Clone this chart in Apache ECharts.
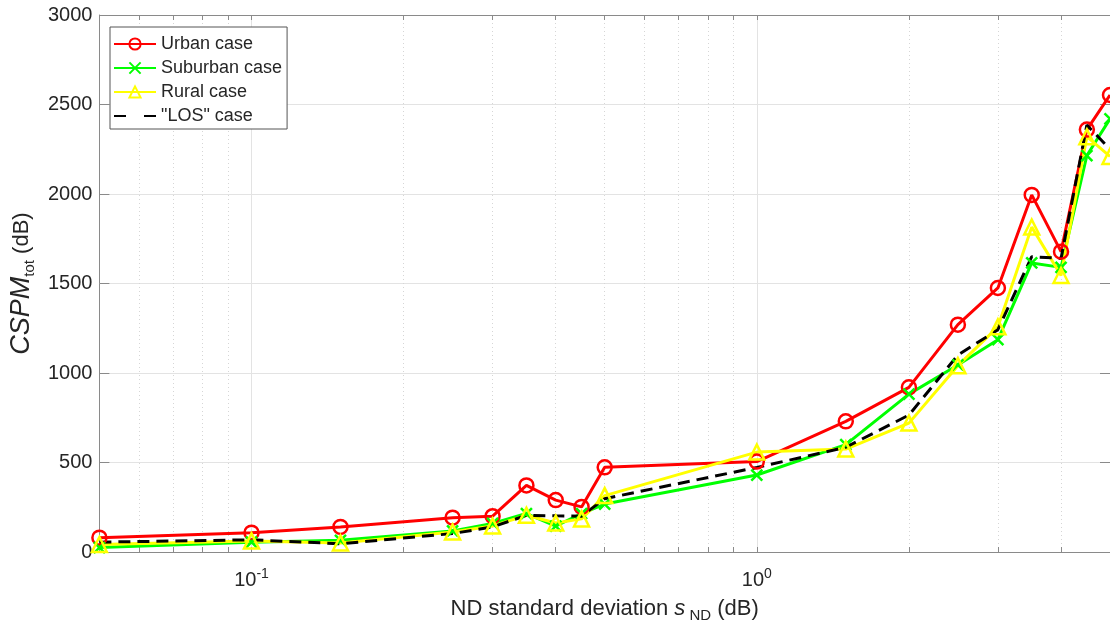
<!DOCTYPE html>
<html>
<head>
<meta charset="utf-8">
<script src="https://cdn.jsdelivr.net/npm/echarts@6/dist/echarts.min.js"></script>
<style>
  html, body { margin: 0; padding: 0; background: #fff; }
  #chart { width: 1110px; height: 628px; }
</style>
</head>
<body>
<div id="chart"></div>
<script>
// ND standard deviation (dB), log x axis
var sigma = [0.05, 0.1, 0.15, 0.25, 0.3, 0.35, 0.4, 0.45, 0.5, 1, 1.5, 2, 2.5, 3, 3.5, 4, 4.5, 5]
var urban = [80, 108, 140, 192, 200, 372, 290, 252, 473, 505, 730, 920, 1270, 1475, 1995, 1678, 2360, 2553]
var suburban = [25, 55, 65, 118, 160, 215, 145, 215, 268, 430, 600, 882, 1045, 1186, 1615, 1590, 2215, 2420]
var rural = [42, 62, 50, 112, 145, 205, 162, 185, 315, 558, 575, 720, 1041, 1258, 1815, 1545, 2320, 2210]
var los = [55, 68, 46, 103, 140, 205, 202, 200, 298, 472, 585, 765, 1100, 1242, 1650, 1640, 2385, 2250]

var xMajorTicks = [0.1, 1]
var xMinorTicks = [0.06, 0.07, 0.08, 0.09, 0.2, 0.3, 0.4, 0.5, 0.6, 0.7, 0.8, 0.9, 2, 3, 4]
var seriesNames = ['Urban case', 'Suburban case', 'Rural case', '"LOS" case']

var font = 'Liberation Sans, Arial, Helvetica, sans-serif'
var textColor = '#262626'
var axisColor = '#8a8a8a'

function pairs(ys) {
  return sigma.map(function (x, i) { return [x, ys[i]] })
}

// 10^n tick labels
function powLabel(v) {
  var e = Math.round(Math.log10(v))
  return '{b|10}{e|' + e + '}'
}

function logAxis(pos, ticks, opts) {
  return Object.assign({
    type: 'log',
    logBase: 10,
    min: 0.05,
    max: 5,
    position: pos,
    axisLine: { show: true, lineStyle: { color: axisColor, width: 1 } },
    axisTick: { show: true, inside: true, length: 5, customValues: ticks, lineStyle: { color: axisColor } },
    axisLabel: { show: false },
    splitLine: { show: false },
    minorTick: { show: false }
  }, opts || {})
}

var chart = echarts.init(document.getElementById('chart'))

chart.setOption({
  animation: false,
  backgroundColor: '#fff',
  textStyle: { fontFamily: font },
  grid: { left: 97, right: 0, top: 15, bottom: 76 },
  legend: {
    orient: 'vertical',
    left: 110,
    top: 27,
    padding: [8, 5, 4, 3],
    itemGap: 6,
    itemWidth: 42,
    itemHeight: 14,
    backgroundColor: '#fff',
    borderColor: '#555',
    borderWidth: 1,
    textStyle: { fontSize: 18, color: textColor, fontFamily: font },
    data: [
      seriesNames[0],
      seriesNames[1],
      seriesNames[2],
      { name: seriesNames[3], lineStyle: { type: [12, 18] } }
    ]
  },
  xAxis: [
    logAxis('bottom', xMajorTicks, {
      name: 'ND standard deviation {i|s}{sub| ND} (dB)',
      nameLocation: 'middle',
      nameGap: 42,
      nameTextStyle: {
        fontSize: 22, color: textColor, fontFamily: font,
        rich: {
          i: { fontSize: 22, fontStyle: 'italic', color: textColor, fontFamily: font },
          sub: { fontSize: 15, color: textColor, fontFamily: font, padding: [14, 0, 0, 0] }
        }
      },
      axisLabel: {
        show: true,
        customValues: xMajorTicks,
        margin: 15,
        formatter: powLabel,
        rich: {
          b: { fontSize: 20, color: textColor, fontFamily: font },
          e: { fontSize: 14, color: textColor, fontFamily: font, padding: [0, 0, 12, 0] }
        }
      },
      splitLine: { show: true, lineStyle: { color: '#e3e3e3', width: 1 } }
    }),
    logAxis('bottom', xMinorTicks, {
      splitLine: { show: true, lineStyle: { color: '#d6d6d6', width: 1, type: [1, 3] } }
    }),
    logAxis('top', xMajorTicks),
    logAxis('top', xMinorTicks)
  ],
  yAxis: [
    {
      type: 'value',
      min: 0,
      max: 3000,
      interval: 500,
      position: 'left',
      name: '{i|CSPM}{sub|tot}{n| (dB)}',
      nameLocation: 'middle',
      nameGap: 55,
      nameTextStyle: {
        fontSize: 22, color: textColor, fontFamily: font,
        rich: {
          i: { fontSize: 27, fontStyle: 'italic', color: textColor, fontFamily: font },
          sub: { fontSize: 15, color: textColor, fontFamily: font, padding: [16, 0, 0, 0] },
          n: { fontSize: 22, color: textColor, fontFamily: font }
        }
      },
      axisLine: { show: true, lineStyle: { color: axisColor, width: 1 } },
      axisTick: { show: true, inside: true, length: 10, lineStyle: { color: axisColor } },
      axisLabel: {
        fontSize: 20, color: textColor, fontFamily: font, margin: 7,
        formatter: function (v) { return String(v) }
      },
      splitLine: { show: true, lineStyle: { color: '#e3e3e3', width: 1 } }
    },
    {
      type: 'value',
      min: 0,
      max: 3000,
      interval: 500,
      position: 'right',
      axisLine: { show: true, lineStyle: { color: axisColor, width: 1 } },
      axisTick: { show: true, inside: true, length: 10, lineStyle: { color: axisColor } },
      axisLabel: { show: false },
      splitLine: { show: false }
    }
  ],
  series: [
    {
      name: seriesNames[0],
      type: 'line',
      data: pairs(urban),
      symbol: 'circle',
      symbolSize: 14,
      showAllSymbol: true,
      lineStyle: { color: '#ff0000', width: 3 },
      itemStyle: { color: 'rgba(0,0,0,0)', borderColor: '#ff0000', borderWidth: 2.5 }
    },
    {
      name: seriesNames[1],
      type: 'line',
      data: pairs(suburban),
      symbol: 'path://M0,0L10,10M10,0L0,10',
      symbolSize: 11,
      showAllSymbol: true,
      lineStyle: { color: '#00ff00', width: 3 },
      itemStyle: { color: 'rgba(0,0,0,0)', borderColor: '#00ff00', borderWidth: 2.5 }
    },
    {
      name: seriesNames[2],
      type: 'line',
      data: pairs(rural),
      symbol: 'triangle',
      symbolSize: 15,
      showAllSymbol: true,
      lineStyle: { color: '#ffff00', width: 3 },
      itemStyle: { color: 'rgba(0,0,0,0)', borderColor: '#ffff00', borderWidth: 2.5 }
    },
    {
      name: seriesNames[3],
      type: 'line',
      data: pairs(los),
      symbol: 'none',
      lineStyle: { color: '#000000', width: 3, type: [12, 7] },
      itemStyle: { color: 'rgba(0,0,0,0)', borderWidth: 0 }
    }
  ]
})
</script>
</body>
</html>
